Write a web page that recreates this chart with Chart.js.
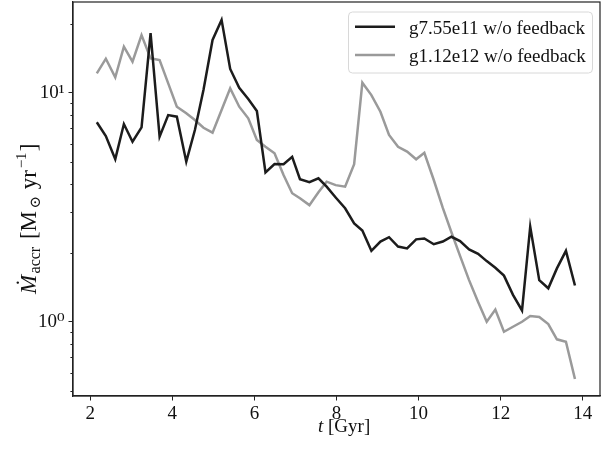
<!DOCTYPE html>
<html><head><meta charset="utf-8">
<script src="https://cdn.jsdelivr.net/npm/chart.js@4/dist/chart.umd.min.js"></script>
<style>html,body{margin:0;padding:0;background:#fff;}#wrap{width:608px;height:451px;}</style>
</head><body><div id="wrap"><canvas id="c" width="608" height="451"></canvas></div>
<script>
const timeGyr = [2.16,2.38,2.61,2.82,3.03,3.25,3.47,3.69,3.90,4.11,4.34,4.55,4.76,4.98,5.20,5.41,5.63,5.85,6.06,6.27,6.49,6.71,6.92,7.11,7.34,7.56,7.76,7.98,8.21,8.43,8.63,8.85,9.07,9.28,9.50,9.72,9.94,10.14,10.37,10.59,10.80,11.01,11.23,11.45,11.66,11.87,12.08,12.30,12.52,12.72,12.94,13.16,13.37,13.59,13.81];
const accrG755e11 = [7.43,6.47,5.13,7.30,6.11,7.06,18.2,6.43,7.99,7.86,5.00,6.87,10.3,17.0,20.8,12.7,10.5,9.39,8.32,4.49,4.88,4.87,5.25,4.19,4.07,4.23,3.89,3.49,3.13,2.69,2.50,2.04,2.24,2.34,2.13,2.09,2.29,2.31,2.18,2.24,2.35,2.25,2.07,1.98,1.84,1.72,1.59,1.31,1.12,2.60,1.52,1.40,1.71,2.04,1.44];
const accrG112e12 = [12.15,14.08,11.67,15.88,13.66,17.86,14.13,13.89,10.99,8.69,8.13,7.60,7.03,6.69,8.40,10.45,8.69,7.73,6.22,5.81,5.44,4.37,3.64,3.46,3.23,3.68,4.09,3.95,3.89,4.88,11.06,9.77,8.26,6.54,5.81,5.53,5.12,5.47,4.16,3.14,2.46,1.94,1.52,1.22,1.00,1.13,0.904,0.951,1.00,1.06,1.05,0.977,0.838,0.818,0.562];
const seriesLabels = ['g7.55e11 w/o feedback','g1.12e12 w/o feedback'];
const seriesColors = ['#1c1c1c','#9a9a9a'];
const xTickValues = [2,4,6,8,10,12,14];
const yMajorTicks = [1,10];
const yMajorLabels = ['10\u2070','10\u00b9'];
const yMinorTicks = [0.5,0.6,0.7,0.8,0.9,2,3,4,5,6,7,8,9,20];

const FONT = '"Liberation Serif", "DejaVu Serif", "Times New Roman", serif';
const AX = '#222';

function toPoints(xs, ys){ return xs.map((x,i)=>({x:x, y:ys[i]})); }

const overlay = {
  id:'overlay',
  afterDraw(chart){
    const ctx = chart.ctx, a = chart.chartArea;
    const ys = chart.scales.y;
    ctx.save();
    ctx.strokeStyle = AX; ctx.lineWidth = 1.2;
    ctx.strokeRect(a.left, a.top, a.right - a.left, a.bottom - a.top);
    ctx.lineWidth = 1;
    yMinorTicks.forEach(v=>{
      const p = Math.round(ys.getPixelForValue(v)) + 0.5;
      if (p < a.top || p > a.bottom) return;
      ctx.beginPath(); ctx.moveTo(a.left - 2.6, p); ctx.lineTo(a.left, p); ctx.stroke();
    });
    // x title
    ctx.fillStyle = '#111';
    ctx.textBaseline = 'alphabetic';
    let cx = 318;
    ctx.font = 'italic 19px ' + FONT;
    ctx.fillText('t', cx, 432); cx += ctx.measureText('t').width;
    ctx.font = '19px ' + FONT;
    ctx.fillText(' [Gyr]', cx, 432);
    // y title (rotated), natural layout
    const parts = [
      {t:'\u1E40', f:'italic 23px ', dy:0},
      {t:'accr', f:'16px ', dy:4},
      {t:' [M', f:'23px ', dy:0},
      {t:'\u2299', f:'15px ', dy:4},
      {t:' yr', f:'23px ', dy:0},
      {t:'\u22121', f:'15px ', dy:-10},
      {t:']', f:'23px ', dy:0}
    ];
    let total = 0;
    parts.forEach(p=>{ ctx.font = p.f + FONT; p.w = ctx.measureText(p.t).width; total += p.w; });
    const yBottom = 294, yTop = 143;
    const sc = (yBottom - yTop) / total;
    ctx.save();
    ctx.translate(35.5, yBottom);
    ctx.rotate(-Math.PI/2);
    let px = 0;
    parts.forEach(p=>{
      ctx.font = p.f + FONT;
      ctx.fillText(p.t, px, p.dy);
      px += p.w * sc;
    });
    ctx.restore();
    // legend
    const lx = 348.5, ly = 12, lw = 244, lh = 61, r = 4;
    ctx.beginPath();
    ctx.moveTo(lx + r, ly);
    ctx.arcTo(lx + lw, ly, lx + lw, ly + lh, r);
    ctx.arcTo(lx + lw, ly + lh, lx, ly + lh, r);
    ctx.arcTo(lx, ly + lh, lx, ly, r);
    ctx.arcTo(lx, ly, lx + lw, ly, r);
    ctx.closePath();
    ctx.fillStyle = 'rgba(255,255,255,0.8)';
    ctx.fill();
    ctx.strokeStyle = '#d8d8d8'; ctx.lineWidth = 1;
    ctx.stroke();
    const rows = [26.7, 55];
    seriesLabels.forEach((lab,i)=>{
      ctx.strokeStyle = seriesColors[i]; ctx.lineWidth = 2.5;
      ctx.beginPath(); ctx.moveTo(355, rows[i]); ctx.lineTo(395, rows[i]); ctx.stroke();
      ctx.fillStyle = '#111';
      ctx.font = '19px ' + FONT;
      ctx.textBaseline = 'alphabetic';
      ctx.fillText(lab, 409, rows[i] + 7);
    });
    ctx.restore();
  }
};

new Chart(document.getElementById('c'), {
  type:'line',
  data:{
    datasets:[
      {label:seriesLabels[0], data:toPoints(timeGyr, accrG755e11), borderColor:seriesColors[0], borderWidth:2.5, pointRadius:0, tension:0, fill:false},
      {label:seriesLabels[1], data:toPoints(timeGyr, accrG112e12), borderColor:seriesColors[1], borderWidth:2.5, pointRadius:0, tension:0, fill:false}
    ]
  },
  options:{
    responsive:false,
    animation:false,
    devicePixelRatio:1,
    layout:{padding:{left:0, right:8, top:2, bottom:0}},
    plugins:{legend:{display:false}, tooltip:{enabled:false}},
    scales:{
      x:{
        type:'linear', min:1.58, max:14.42,
        afterBuildTicks(s){ s.ticks = xTickValues.map(v=>({value:v})); },
        afterFit(s){ s.height = 55; s.paddingLeft = 0; s.paddingRight = 0; },
        grid:{display:true, drawOnChartArea:false, drawTicks:true, tickLength:4.5, tickColor:AX, tickWidth:1},
        border:{display:true, color:AX, width:1.2},
        ticks:{autoSkip:false, maxRotation:0, padding:2, color:'#111', font:{family:FONT, size:19}, callback:(v)=>String(v)}
      },
      y:{
        type:'logarithmic', min:0.474, max:24.9,
        afterBuildTicks(s){
          const all = yMinorTicks.concat(yMajorTicks).sort((p,q)=>p-q);
          s.ticks = all.map(v=>({value:v, major: yMajorTicks.includes(v)}));
        },
        afterFit(s){ s.width = 73; s.paddingTop = 0; s.paddingBottom = 0; },
        grid:{display:true, drawOnChartArea:false, drawTicks:true, tickLength:4.5, tickWidth:1,
              tickColor:(c)=> (c.tick && yMajorTicks.includes(c.tick.value)) ? AX : 'rgba(0,0,0,0)'},
        border:{display:true, color:AX, width:1.2},
        ticks:{autoSkip:false, padding:4, color:'#111', font:{family:FONT, size:19},
               callback:(v)=>{ const k = yMajorTicks.indexOf(v); return k >= 0 ? yMajorLabels[k] : ''; }}
      }
    }
  },
  plugins:[overlay]
});
</script>
</body></html>
